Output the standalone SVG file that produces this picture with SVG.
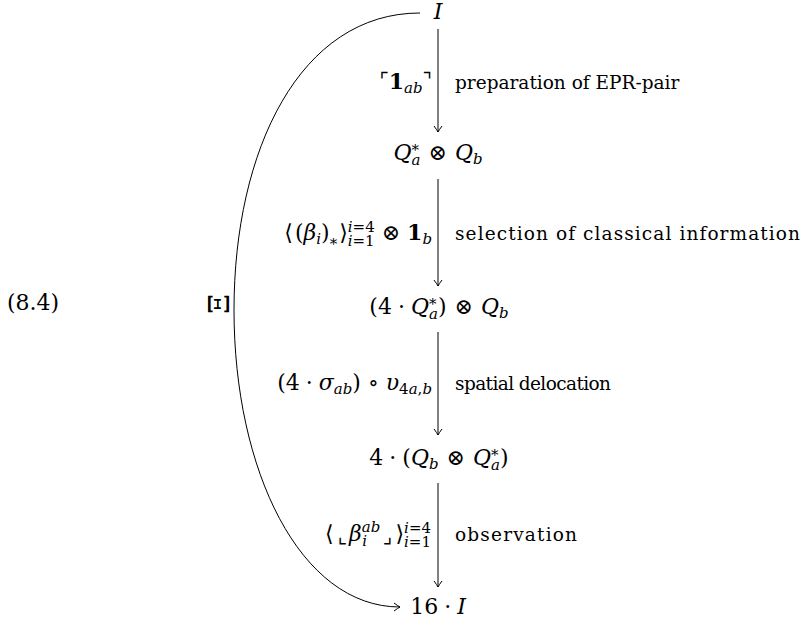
<svg xmlns="http://www.w3.org/2000/svg" width="803" height="626" viewBox="0 0 803 626" font-family="'DejaVu Serif', serif" font-size="22">
<style>
.i{font-style:italic}
.b{font-weight:bold}
.s{font-size:15px}
.lab{font-size:18.5px}
.cor{font-family:'DejaVu Sans',sans-serif;font-size:20px}
.edge{fill:none;stroke:#000;stroke-width:1}
</style>
<defs>
<marker id="ah" viewBox="-8 -5 10 10" refX="0" refY="0" markerWidth="10" markerHeight="10" markerUnits="userSpaceOnUse" orient="auto">
<path d="M-6,-4 Q-2,-1 0,0 Q-2,1 -6,4" fill="none" stroke="#000" stroke-width="1"/>
</marker>
</defs>

<text x="7" y="310">(8.4)</text>

<g id="connectors">
<path class="edge" d="M438,29 L438,132" marker-end="url(#ah)"/>
<path class="edge" d="M438,179 L438,286" marker-end="url(#ah)"/>
<path class="edge" d="M438,332 L438,435" marker-end="url(#ah)"/>
<path class="edge" d="M438,483 L438,587" marker-end="url(#ah)"/>
<path class="edge" d="M420,13 C300,13 234,150 234,310 C234,470 300,607 400,607" marker-end="url(#ah)"/>
</g>

<g id="edge-labels">
<text x="219" y="314" text-anchor="middle" font-size="28" transform="rotate(-90 219 304)">Ξ</text>

<text x="432" y="89" text-anchor="end"><tspan class="cor" dy="-2">⌜</tspan><tspan class="b" dy="2">1</tspan><tspan class="i s" dy="4">ab</tspan><tspan class="cor" dy="-6">⌝</tspan></text>
<text class="lab" x="455" y="89">preparation of EPR-pair</text>

<text x="432" y="240" text-anchor="end">⟨<tspan dx="2">(</tspan><tspan class="i">β</tspan><tspan class="i s" dy="4">i</tspan><tspan dy="-4">)</tspan><tspan class="s" dy="9">*</tspan><tspan dx="2" dy="-9">⟩</tspan><tspan class="s" dy="-8"><tspan class="i">i</tspan>=4</tspan><tspan class="s" dx="-27" dy="14"><tspan class="i">i</tspan>=1</tspan><tspan dx="7" dy="-6">⊗</tspan><tspan class="b" dx="7">1</tspan><tspan class="i s" dy="4">b</tspan></text>
<text class="lab" x="455" y="240" textLength="345" lengthAdjust="spacing">selection of classical information</text>

<text x="432" y="390" text-anchor="end">(4<tspan dx="6">·</tspan><tspan class="i" dx="6">σ</tspan><tspan class="i s" dy="4">ab</tspan><tspan dy="-4">)</tspan><tspan dx="7">∘</tspan><tspan class="i" dx="7">υ</tspan><tspan class="s" dy="4">4<tspan class="i">a</tspan>,<tspan class="i">b</tspan></tspan></text>
<text class="lab" x="455" y="390" textLength="156" lengthAdjust="spacing">spatial delocation</text>

<text x="431" y="541" text-anchor="end">⟨<tspan class="cor" dx="4" dy="2">⌞</tspan><tspan class="i" dx="2" dy="-2">β</tspan><tspan class="i s" dy="-9">ab</tspan><tspan class="i s" dx="-18" dy="14">i</tspan><tspan class="cor" dx="16" dy="-3">⌟</tspan><tspan dx="3" dy="-2">⟩</tspan><tspan class="s" dy="-8"><tspan class="i">i</tspan>=4</tspan><tspan class="s" dx="-27" dy="14"><tspan class="i">i</tspan>=1</tspan></text>
<text class="lab" x="455" y="541" textLength="122" lengthAdjust="spacing">observation</text>
</g>

<g id="node-I"><text class="i" x="438" y="19" text-anchor="middle">I</text></g>

<g id="node-QaQb"><text x="438" y="160" text-anchor="middle"><tspan class="i">Q</tspan><tspan class="s" dy="-5">*</tspan><tspan class="i s" dx="-7.5" dy="10">a</tspan><tspan dx="8" dy="-5">⊗</tspan><tspan class="i" dx="8">Q</tspan><tspan class="i s" dy="4">b</tspan></text></g>

<g id="node-4QaQb"><text x="439" y="314" text-anchor="middle">(4<tspan dx="6">·</tspan><tspan class="i" dx="6">Q</tspan><tspan class="s" dy="-5">*</tspan><tspan class="i s" dx="-7.5" dy="10">a</tspan><tspan dy="-5">)</tspan><tspan dx="8">⊗</tspan><tspan class="i" dx="8">Q</tspan><tspan class="i s" dy="4">b</tspan></text></g>

<g id="node-4QbQa"><text x="439" y="465" text-anchor="middle">4<tspan dx="6">·</tspan><tspan dx="6">(</tspan><tspan class="i">Q</tspan><tspan class="i s" dy="4">b</tspan><tspan dx="8" dy="-4">⊗</tspan><tspan class="i" dx="8">Q</tspan><tspan class="s" dy="-5">*</tspan><tspan class="i s" dx="-7.5" dy="10">a</tspan><tspan dy="-5">)</tspan></text></g>

<g id="node-16I"><text x="438" y="614" text-anchor="middle">16<tspan dx="6">·</tspan><tspan class="i" dx="6">I</tspan></text></g>
</svg>
